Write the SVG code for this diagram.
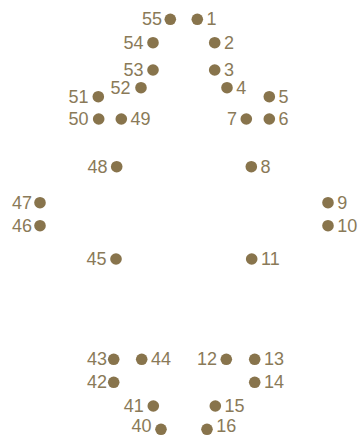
<svg xmlns="http://www.w3.org/2000/svg" width="364" height="436" viewBox="0 0 364 436">
<style>
.d{fill:#88744c}
text{font-family:"Liberation Sans","DejaVu Sans",sans-serif;font-size:18px;fill:#8a7a58}
.l{text-anchor:end}
</style>
<rect width="364" height="436" fill="#fff"/>
<g id="connectors"/>
<g id="n1"><circle class="d" cx="197.3" cy="19.3" r="5.8"/><text x="206.5" y="25.3">1</text></g>
<g id="n2"><circle class="d" cx="214.7" cy="42.7" r="5.8"/><text x="224" y="48.7">2</text></g>
<g id="n3"><circle class="d" cx="214.7" cy="70" r="5.8"/><text x="224" y="76">3</text></g>
<g id="n4"><circle class="d" cx="227" cy="87.7" r="5.8"/><text x="236.3" y="93.7">4</text></g>
<g id="n5"><circle class="d" cx="269.3" cy="96.7" r="5.8"/><text x="278.6" y="102.7">5</text></g>
<g id="n6"><circle class="d" cx="269.3" cy="119" r="5.8"/><text x="278.6" y="125">6</text></g>
<g id="n7"><circle class="d" cx="246.3" cy="119" r="5.8"/><text class="l" x="237" y="125">7</text></g>
<g id="n8"><circle class="d" cx="251.3" cy="166.7" r="5.8"/><text x="260.6" y="172.7">8</text></g>
<g id="n9"><circle class="d" cx="328" cy="202.7" r="5.8"/><text x="337.3" y="208.7">9</text></g>
<g id="n10"><circle class="d" cx="328" cy="225.7" r="5.8"/><text x="337.3" y="231.7">10</text></g>
<g id="n11"><circle class="d" cx="251.7" cy="259" r="5.8"/><text x="261" y="265">11</text></g>
<g id="n12"><circle class="d" cx="226.3" cy="359.3" r="5.8"/><text class="l" x="217" y="365.3">12</text></g>
<g id="n13"><circle class="d" cx="254.7" cy="359.3" r="5.8"/><text x="264" y="365.3">13</text></g>
<g id="n14"><circle class="d" cx="254.7" cy="382.3" r="5.8"/><text x="264" y="388.3">14</text></g>
<g id="n15"><circle class="d" cx="215.3" cy="406" r="5.8"/><text x="224.6" y="412">15</text></g>
<g id="n16"><circle class="d" cx="207" cy="429.3" r="5.8"/><text x="216.3" y="432">16</text></g>
<g id="n40"><circle class="d" cx="161" cy="429.3" r="5.8"/><text class="l" x="151.5" y="432">40</text></g>
<g id="n41"><circle class="d" cx="153.3" cy="406" r="5.8"/><text class="l" x="143.8" y="412">41</text></g>
<g id="n42"><circle class="d" cx="113.7" cy="382.3" r="5.8"/><text class="l" x="107" y="388.3">42</text></g>
<g id="n43"><circle class="d" cx="113.7" cy="359.3" r="5.8"/><text class="l" x="107" y="365.3">43</text></g>
<g id="n44"><circle class="d" cx="141.7" cy="359.3" r="5.8"/><text x="151" y="365.3">44</text></g>
<g id="n45"><circle class="d" cx="116" cy="259" r="5.8"/><text class="l" x="106.5" y="265">45</text></g>
<g id="n46"><circle class="d" cx="40" cy="225.7" r="5.8"/><text class="l" x="32" y="231.7">46</text></g>
<g id="n47"><circle class="d" cx="40" cy="202.7" r="5.8"/><text class="l" x="32" y="208.7">47</text></g>
<g id="n48"><circle class="d" cx="116.7" cy="166.7" r="5.8"/><text class="l" x="107.5" y="172.7">48</text></g>
<g id="n49"><circle class="d" cx="121.3" cy="119" r="5.8"/><text x="130.6" y="125">49</text></g>
<g id="n50"><circle class="d" cx="98.7" cy="119" r="5.8"/><text class="l" x="88.5" y="125">50</text></g>
<g id="n51"><circle class="d" cx="98.3" cy="96.7" r="5.8"/><text class="l" x="88.5" y="102.7">51</text></g>
<g id="n52"><circle class="d" cx="141" cy="87.7" r="5.8"/><text class="l" x="130.5" y="93.7">52</text></g>
<g id="n53"><circle class="d" cx="153" cy="70" r="5.8"/><text class="l" x="143.5" y="76">53</text></g>
<g id="n54"><circle class="d" cx="153" cy="42.7" r="5.8"/><text class="l" x="143.5" y="48.7">54</text></g>
<g id="n55"><circle class="d" cx="170.3" cy="19.3" r="5.8"/><text class="l" x="162" y="25.3">55</text></g>
</svg>
